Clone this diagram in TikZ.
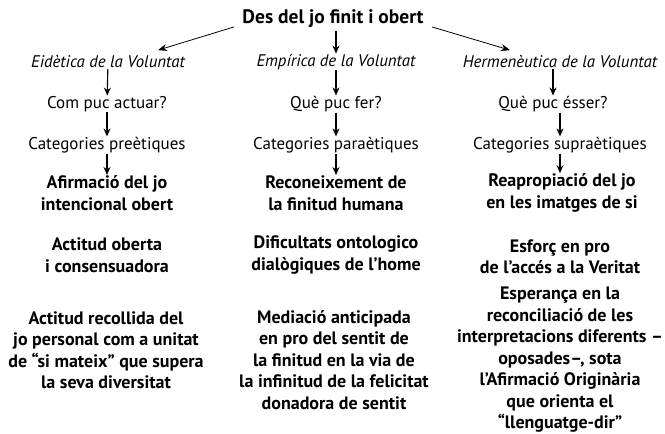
\documentclass[tikz,border=0pt]{standalone}
\usepackage{fontspec}
\setmainfont{PT Sans}
\usepackage{tikz}
\usetikzlibrary{arrows.meta}

\begin{document}
\begin{tikzpicture}[x=1pt,y=-1pt,
    txt/.style={align=center,font=\fontsize{17}{21.5}\selectfont,inner sep=0.5pt},
    head/.style={txt,font=\fontsize{16.8}{21.5}\selectfont\itshape},
    strong/.style={txt,font=\fontsize{18}{21.5}\selectfont\bfseries},
    down/.style={-{Stealth[length=8pt,width=7pt]},line width=1.1pt},
    side/.style={-{Stealth[length=9pt,width=7pt]},line width=0.8pt}]
    \useasboundingbox (0,0) rectangle (665,434);

    % Title
    \node[strong,font=\fontsize{19.5}{21.5}\selectfont\bfseries] (title) at (333,19) {Des del jo finit i obert};

    % Heads
    \node[head] (eid) at (108,62) {Eidètica de la Voluntat};
    \node[head] (emp) at (336,62) {Empírica de la Voluntat};
    \node[head] (her) at (560,62) {Hermenèutica de la Voluntat};

    % Questions
    \node[txt] (qeid) at (107,104) {Com puc actuar?};
    \node[txt] (qemp) at (336,104) {Què puc fer?};
    \node[txt] (qher) at (553,104) {Què puc ésser?};

    % Categories
    \node[txt] (ceid) at (107,145) {Categories preètiques};
    \node[txt] (cemp) at (336,145) {Categories paraètiques};
    \node[txt] (cher) at (560,145) {Categories supraètiques};

    % Left column
    \node[strong] (aeid) at (107,193) {Afirmació del jo\\intencional obert};
    \node[strong] (beid) at (107,255) {Actitud oberta\\i consensuadora};
    \node[strong] (deid) at (106,350) {Actitud recollida del\\jo personal com a unitat\\de “si mateix” que supera\\la seva diversitat};

    % Middle column
    \node[strong] (aemp) at (336,193) {Reconeixement de\\la finitud humana};
    \node[strong] (bemp) at (336,255) {Dificultats ontologico\\dialògiques de l’home};
    \node[strong] (demp) at (334,360) {Mediació anticipada\\en pro del sentit de\\la finitud en la via de\\la infinitud de la felicitat\\donadora de sentit};

    % Right column
    \node[strong] (aher) at (562,193) {Reapropiació del jo\\en les imatges de si};
    \node[strong] (bher) at (560,257) {Esforç en pro\\de l’accés a la Veritat};
    \node[strong] (dher) at (560,360) {Esperança en la\\reconciliació de les\\interpretacions diferents –\\oposades–, sota\\l’Afirmació Originària\\que orienta el\\“llenguatge-dir”};

    % Arrows
    \draw[side] ([xshift=-8pt,yshift=-8pt]title.west) -- ([xshift=50pt,yshift=5pt]eid.north);
    \draw[side] ([xshift=8pt,yshift=-8pt]title.east) -- ([xshift=-50pt,yshift=5pt]her.north);
    \draw[down] ([yshift=-2pt]title.south -| emp) -- (emp);
    \draw[down] (eid) -- (qeid);
    \draw[down] (emp) -- (qemp);
    \draw[down] (her.south -| qher) -- (qher);
    \draw[down] (qeid) -- (ceid);
    \draw[down] (qemp) -- (cemp);
    \draw[down] (qher.south -| cher) -- (cher);
    \draw[down] (ceid) -- (aeid);
    \draw[down] (cemp) -- (aemp);
    \draw[down] (cher) -- (cher |- aher.north);
\end{tikzpicture}
\end{document}
